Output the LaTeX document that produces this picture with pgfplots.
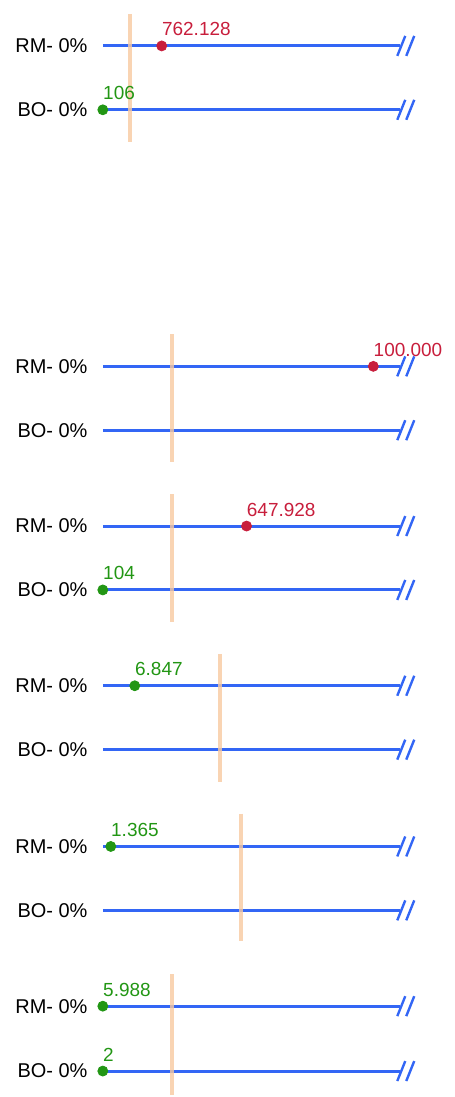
\documentclass[border=0pt]{standalone}
\usepackage{fontspec}
\setmainfont{Liberation Sans}
\usepackage{pgfplots}
\pgfplotsset{compat=1.18}
\definecolor{lineblue}{HTML}{3366F5}
\definecolor{dotred}{HTML}{C81E3C}
\definecolor{dotgreen}{HTML}{229614}
\definecolor{peach}{HTML}{F7C9A0}

\begin{document}
\begin{tikzpicture}
\begin{axis}[
  scale only axis,width=227.5pt,height=548.5pt,
  xmin=0,xmax=455,ymin=0,ymax=1097,y dir=reverse,
  axis line style={draw=none},ticks=none,clip=false,
  every axis plot/.append style={line cap=butt},
]
% baseline rows (pixel-like units)
\pgfplotsinvokeforeach{46,110,367,431,527,591,687,751,848,912,1008,1073}{
  \addplot[lineblue,line width=1.5pt] coordinates {(103,#1) (401,#1)};
  \addplot[lineblue,line width=1.2pt] coordinates {(398,#1+10) (406,#1-10)};
  \addplot[lineblue,line width=1.2pt] coordinates {(407,#1+10) (415,#1-10)};
}
% reference markers
\addplot[peach,opacity=0.8,line width=2pt] coordinates {(130,14) (130,142)};
\addplot[peach,opacity=0.8,line width=2pt] coordinates {(172,335) (172,463)};
\addplot[peach,opacity=0.8,line width=2pt] coordinates {(172,495) (172,623)};
\addplot[peach,opacity=0.8,line width=2pt] coordinates {(220,655) (220,783)};
\addplot[peach,opacity=0.8,line width=2pt] coordinates {(241,815) (241,943)};
\addplot[peach,opacity=0.8,line width=2pt] coordinates {(172,976) (172,1097)};
% points
\pgfplotsset{dots/.style={only marks,mark=*,mark size=2.5pt,
  point meta=explicit symbolic,nodes near coords,
  every node near coord/.append style={anchor=base west,inner sep=0pt,
    yshift=5pt,font=\fontsize{9.5}{10}\selectfont,text=#1},
  mark options={fill=#1,draw=#1},color=#1}}
\addplot[dots=dotred] coordinates {(162,46)[762.128] (374,367)[100.000] (247,527)[647.928]};
\addplot[dots=dotgreen] coordinates {(103,110)[106] (103,591)[104] (135,687)[6.847]
  (111,848)[1.365] (103,1008)[5.988] (103,1073)[2]};
% row labels
\pgfplotsinvokeforeach{46,367,527,687,848,1008}{
  \node[anchor=east,font=\fontsize{10}{10}\selectfont,inner sep=0pt] at (axis cs:88,#1) {RM- 0\%};
}
\pgfplotsinvokeforeach{110,431,591,751,912,1073}{
  \node[anchor=east,font=\fontsize{10}{10}\selectfont,inner sep=0pt] at (axis cs:88,#1) {BO- 0\%};
}
\end{axis}
\end{tikzpicture}
\end{document}
